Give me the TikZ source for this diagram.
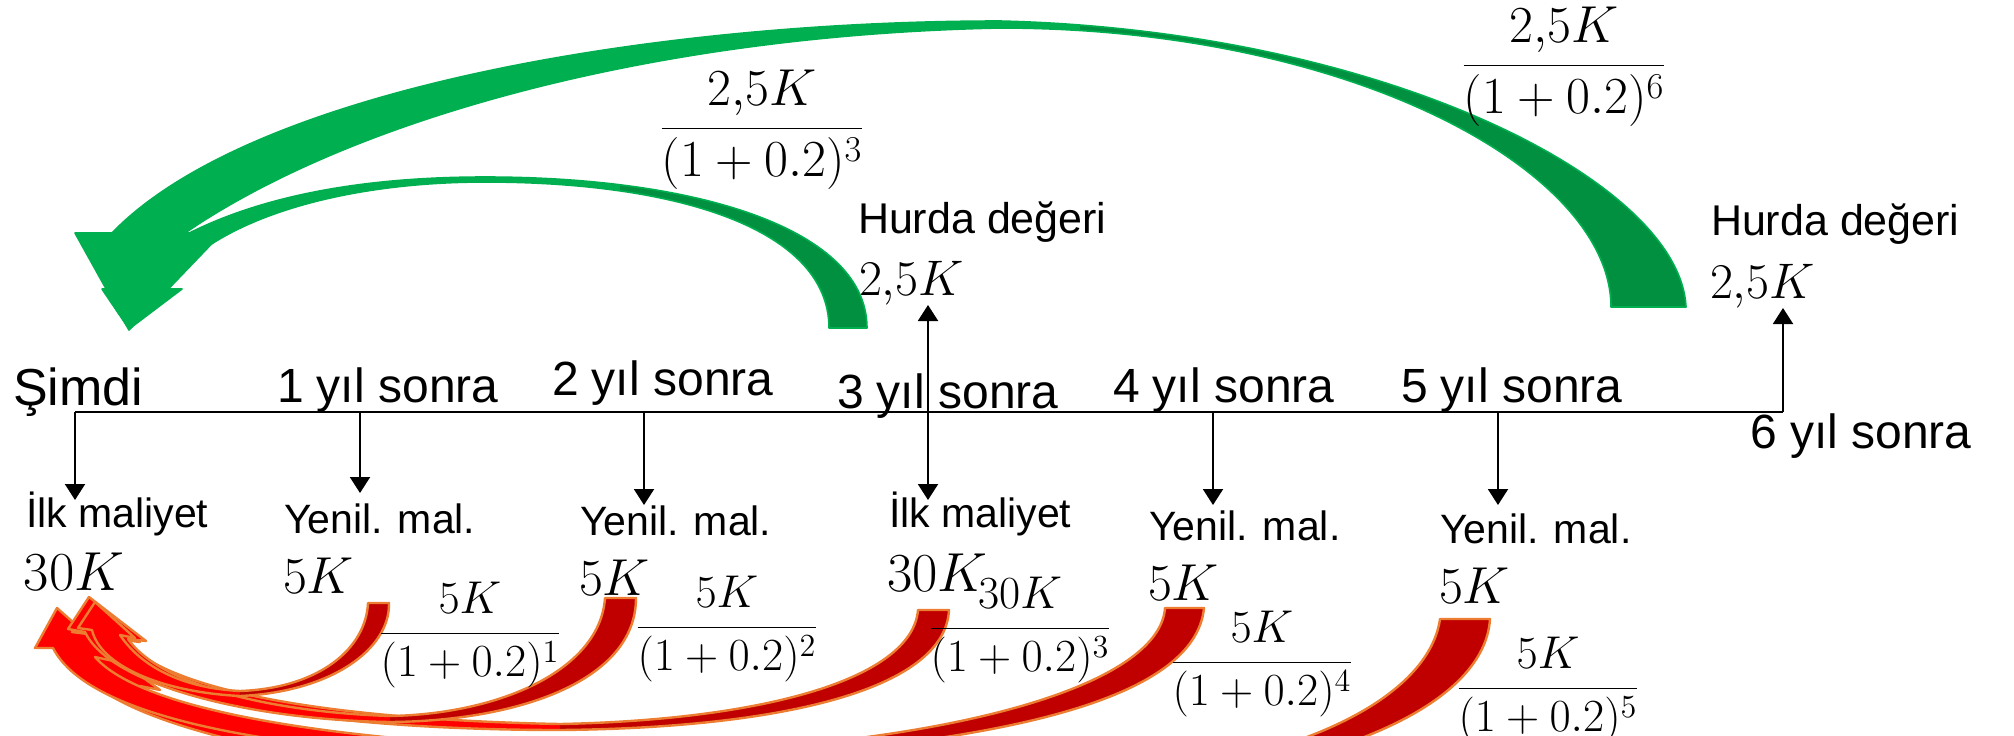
\RequirePackage{fix-cm}
\documentclass[tikz,border=0pt]{standalone}
\usepackage[no-math]{fontspec}
\setmainfont{Liberation Sans}
\usetikzlibrary{arrows.meta}
\definecolor{gbright}{HTML}{00B050}
\definecolor{gdark}{HTML}{00903F}
\definecolor{rbright}{HTML}{FF0000}
\definecolor{rdark}{HTML}{C00000}
\definecolor{rline}{HTML}{ED7D31}
\begin{document}
\begin{tikzpicture}[x=0.5pt,y=-0.5pt,
 tline/.style={line width=1pt,draw=black},
 arr/.style={tline,-{Triangle[width=10pt,length=8pt]}},
 darr/.style={tline,{Triangle[width=10pt,length=8pt]}-{Triangle[width=10pt,length=8pt]}},
 lbl/.style={inner sep=0pt,outer sep=0pt,anchor=base west},
 tlab/.style={lbl,font=\fontsize{24pt}{28pt}\selectfont},
 clab/.style={lbl,font=\fontsize{20.5pt}{24pt}\selectfont},
 hlab/.style={lbl,font=\fontsize{21.5pt}{25pt}\selectfont},
 val/.style={lbl,font=\fontsize{26pt}{30pt}\selectfont},
 bigval/.style={lbl,font=\fontsize{27.5pt}{31pt}\selectfont},
 hval/.style={lbl,font=\fontsize{25pt}{29pt}\selectfont},
 gfrac/.style={inner sep=0pt,outer sep=0pt,anchor=base,font=\fontsize{26pt}{30pt}\selectfont},
 rfrac/.style={inner sep=0pt,outer sep=0pt,anchor=base,font=\fontsize{23pt}{27pt}\selectfont},
 redout/.style={draw=rline,line width=1.2pt,line join=round},
 greenout/.style={draw=gbright,line width=0.8pt,line join=round}
]
\useasboundingbox (0,0) rectangle (2014,735);
\clip (0,0) rectangle (2014,735);

% ---------- red curved arrows ----------
\def\shpRa{(368,603) -- (389,603) .. controls (390,650) and (330,692) .. (240,696) .. controls (160,692) and (100,665) .. (92,630) -- (78,628) -- (95,602) -- (135,638) -- (120,635) .. controls (140,665) and (180,688) .. (240,691) .. controls (320,688) and (366,648) .. (368,603) -- cycle}
\def\shpRb{(605,598) -- (636,598) .. controls (636,680) and (520,721) .. (390,722) .. controls (250,720) and (110,685) .. (85,632) -- (68,629) -- (89,597) -- (146,641) -- (128,639) .. controls (160,685) and (270,712) .. (390,716) .. controls (500,714) and (600,670) .. (605,598) -- cycle}
\def\shpRc{(918,610) -- (949,610) .. controls (945,690) and (780,728) .. (560,730) .. controls (330,730) and (120,700) .. (88,634) -- (72,632) -- (90,600) -- (140,642) -- (124,640) .. controls (170,695) and (350,720) .. (560,724) .. controls (760,720) and (912,680) .. (918,610) -- cycle}
\def\shpRd{(1165,608) -- (1204,608) .. controls (1195,700) and (1000,745) .. (700,760) .. controls (400,765) and (100,740) .. (53,648) -- (35,648) -- (57,608) -- (118,662) -- (95,657) .. controls (150,720) and (400,750) .. (700,752) .. controls (980,738) and (1160,680) .. (1165,608) -- cycle}
\def\shpRe{(1440,619) -- (1490,619) .. controls (1485,700) and (1350,770) .. (1100,790) .. controls (600,815) and (150,760) .. (82,672) -- (70,670) -- (62,618) -- (160,690) -- (140,686) .. controls (200,740) and (600,795) .. (1100,780) .. controls (1320,760) and (1430,690) .. (1440,619) -- cycle}

\fill[rbright] \shpRe;
\begin{scope}\clip (1100,0) rectangle (2014,900); \fill[rdark] \shpRe; \end{scope}
\path[redout] \shpRe;

\fill[rbright] \shpRd;
\begin{scope}\clip (700,0) rectangle (2014,900); \fill[rdark] \shpRd; \end{scope}
\path[redout] \shpRd;

\fill[rbright] \shpRc;
\begin{scope}\clip (560,0) rectangle (2014,900); \fill[rdark] \shpRc; \end{scope}
\path[redout] \shpRc;

\fill[rbright] \shpRb;
\begin{scope}\clip (390,0) rectangle (2014,900); \fill[rdark] \shpRb; \end{scope}
\path[redout] \shpRb;

\fill[rbright] \shpRa;
\begin{scope}\clip (240,0) rectangle (2014,900); \fill[rdark] \shpRa; \end{scope}
\path[redout] \shpRa;

% ---------- green curved arrows ----------
\def\shpGbig{(112,233) .. controls (250,90) and (650,21) .. (1000,21) .. controls (1380,30) and (1680,180) .. (1686,307) -- (1611,307) .. controls (1611,170) and (1350,28) .. (1000,28) .. controls (650,35) and (350,120) .. (185,233) -- (222,233) -- (129,330) -- (75,233) -- cycle}
\def\shpGsmall{(110,289) .. controls (200,200) and (350,177) .. (485,177) .. controls (700,177) and (867,230) .. (867,328) -- (829,328) .. controls (829,230) and (680,182) .. (485,182) .. controls (340,182) and (210,220) .. (163,289) -- (182,289) -- (129,329) -- (102,289) -- cycle}

\fill[gbright] \shpGbig;
\begin{scope}\clip (1080,0) rectangle (2014,735); \fill[gdark] \shpGbig; \end{scope}
\path[greenout] \shpGbig;

\fill[gbright] \shpGsmall;
\begin{scope}\clip (620,0) rectangle (2014,735); \fill[gdark] \shpGsmall; \end{scope}
\path[greenout] \shpGsmall;

% ---------- time line ----------
\coordinate (p0) at (75,412);
\coordinate (p1) at (360,412);
\coordinate (p2) at (644,412);
\coordinate (p3) at (928,412);
\coordinate (p4) at (1213,412);
\coordinate (p5) at (1498,412);
\coordinate (p6) at (1783,412);
\coordinate (a0) at (75,500);
\coordinate (a1) at (360,493);
\coordinate (a2) at (644,505);
\coordinate (a3) at (928,500);
\coordinate (a4) at (1213,505);
\coordinate (a5) at (1498,505);
\coordinate (u3) at (928,305);
\coordinate (u6) at (1783,308);

\draw[tline] (p0) -- (p6);
\draw[arr] (p0) -- (a0);
\draw[arr] (p1) -- (a1);
\draw[arr] (p2) -- (a2);
\draw[darr] (u3) -- (a3);
\draw[arr] (p4) -- (a4);
\draw[arr] (p5) -- (a5);
\draw[arr] (p6) -- (u6);

% ---------- time labels ----------
\node[tlab,font=\fontsize{26pt}{30pt}\selectfont] (n0) at (13,405) {Şimdi};
\node[tlab] (n1) at (277,402) {1 yıl sonra};
\node[tlab] (n2) at (552,395) {2 yıl sonra};
\node[tlab] (n3) at (837,408) {3 yıl sonra};
\node[tlab] (n4) at (1113,402) {4 yıl sonra};
\node[tlab] (n5) at (1401,402) {5 yıl sonra};
\node[tlab] (n6) at (1750,448) {6 yıl sonra};

% ---------- cost labels ----------
\node[clab] (c0) at (26,527) {İlk maliyet};
\node[bigval] (v0) at (24,590) {$30K$};
\node[clab] (c1) at (284,533) {Yenil. mal.};
\node[val] (v1) at (283,593) {$5K$};
\node[clab] (c2) at (580,535) {Yenil. mal.};
\node[val] (v2) at (579,595) {$5K$};
\node[clab] (c3) at (889,527) {İlk maliyet};
\node[bigval] (v3) at (887,591) {$30K$};
\node[clab] (c4) at (1149,540) {Yenil. mal.};
\node[val] (v4) at (1148,600) {$5K$};
\node[clab] (c5) at (1440,543) {Yenil. mal.};
\node[val] (v5) at (1439,603) {$5K$};

% ---------- salvage labels ----------
\node[hlab] (h3) at (858,233) {Hurda değeri};
\node[hval] (s3) at (859,295) {$2{,}5K$};
\node[hlab] (h6) at (1711,235) {Hurda değeri};
\node[hval] (s6) at (1710,298) {$2{,}5K$};

% ---------- fractions ----------
\node[gfrac] (g3) at (762,141) {$\displaystyle\frac{2{,}5K}{(1+0.2)^3}$};
\node[gfrac] (g6) at (1564,78) {$\displaystyle\frac{2{,}5K}{(1+0.2)^6}$};
\node[rfrac] (r1) at (470,644.5) {$\displaystyle\frac{5K}{(1+0.2)^1}$};
\node[rfrac] (r2) at (727,638.5) {$\displaystyle\frac{5K}{(1+0.2)^2}$};
\node[rfrac] (r3) at (1020,639.5) {$\displaystyle\frac{30K}{(1+0.2)^3}$};
\node[rfrac] (r4) at (1262,673.5) {$\displaystyle\frac{5K}{(1+0.2)^4}$};
\node[rfrac] (r5) at (1548,699.5) {$\displaystyle\frac{5K}{(1+0.2)^5}$};
\end{tikzpicture}
\end{document}
